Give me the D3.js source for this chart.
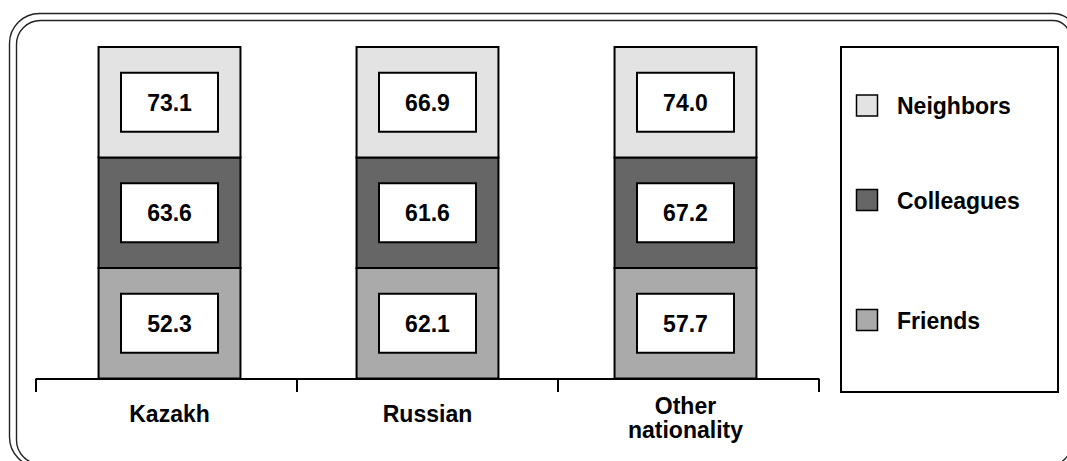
<!DOCTYPE html>
<html>
<head>
<meta charset="utf-8">
<script src="https://cdn.jsdelivr.net/npm/d3@7"></script>
<style>
  html, body { margin: 0; padding: 0; background: #fff; }
  svg { display: block; font-family: "Liberation Sans", Arial, sans-serif; }
</style>
</head>
<body>
<svg id="chart" width="1067" height="461"></svg>
<script>
// ---- data ----
const categories = ["Kazakh", "Russian", "Other nationality"];
const seriesNames = ["Friends", "Colleagues", "Neighbors"];
const friends    = [52.3, 62.1, 57.7];
const colleagues = [63.6, 61.6, 67.2];
const neighbors  = [73.1, 66.9, 74.0];
const legendOrder = ["Neighbors", "Colleagues", "Friends"];

// ---- styles ----
const colors = { Friends: "#aaaaaa", Colleagues: "#666666", Neighbors: "#e3e3e3" };
const seriesValues = { Friends: friends, Colleagues: colleagues, Neighbors: neighbors };

const svg = d3.select("#chart");

// ---- frame (double rounded border) ----
function roundRect(x0, y0, x1, y1, rl, rr) {
  return `M${x0 + rl},${y0} L${x1 - rr},${y0} A${rr},${rr} 0 0 1 ${x1},${y0 + rr}
          L${x1},${y1 - rr} A${rr},${rr} 0 0 1 ${x1 - rr},${y1}
          L${x0 + rl},${y1} A${rl},${rl} 0 0 1 ${x0},${y1 - rl}
          L${x0},${y0 + rl} A${rl},${rl} 0 0 1 ${x0 + rl},${y0} Z`;
}
svg.append("path").attr("d", roundRect(9.5, 13.5, 1077, 467, 30, 24))
  .attr("fill", "none").attr("stroke", "#222").attr("stroke-width", 1.4);
svg.append("path").attr("d", roundRect(16.5, 20.5, 1070, 464, 24, 17))
  .attr("fill", "none").attr("stroke", "#222").attr("stroke-width", 1.4);

// ---- scales ----
const axisLeft = 36, axisRight = 819, baseY = 378.5, topY = 47;
const xAxisScale = d3.scaleBand().domain(categories).range([axisLeft, axisRight]).padding(0);
const x = d3.scaleBand().domain(categories).range([axisLeft, axisRight])
  .paddingInner(0.45).paddingOuter(0.2425);
const y = d3.scaleBand().domain(seriesNames).range([baseY, topY]).padding(0);

// ---- bars ----
const boxW = 97, boxH = 59;
const barG = svg.append("g");
seriesNames.forEach(s => {
  categories.forEach((c, i) => {
    const v = seriesValues[s][i];
    const bx = x(c), by = y(s), bw = x.bandwidth(), bh = y.bandwidth();
    barG.append("rect")
      .attr("x", bx).attr("y", by).attr("width", bw).attr("height", bh)
      .attr("fill", colors[s]).attr("stroke", "#000").attr("stroke-width", 2);
    const cx = bx + bw / 2, cy = by + bh / 2;
    barG.append("rect")
      .attr("x", cx - boxW / 2).attr("y", cy - boxH / 2)
      .attr("width", boxW).attr("height", boxH)
      .attr("fill", "#fff").attr("stroke", "#000").attr("stroke-width", 2);
    barG.append("text")
      .attr("x", cx).attr("y", cy + 8.5)
      .attr("text-anchor", "middle")
      .attr("font-size", 23).attr("font-weight", "bold").attr("fill", "#000")
      .text(v.toFixed(1));
  });
});

// ---- x axis ----
const axisG = svg.append("g");
axisG.append("line")
  .attr("x1", axisLeft).attr("x2", axisRight).attr("y1", baseY + 0.5).attr("y2", baseY + 0.5)
  .attr("stroke", "#000").attr("stroke-width", 2);
const tickXs = categories.map(c => xAxisScale(c)).concat([xAxisScale(categories[categories.length - 1]) + xAxisScale.bandwidth()]);
axisG.selectAll("line.tick").data(tickXs).enter().append("line")
  .attr("class", "tick")
  .attr("x1", d => d).attr("x2", d => d).attr("y1", baseY).attr("y2", 392)
  .attr("stroke", "#000").attr("stroke-width", 2);

categories.forEach(c => {
  const cx = x(c) + x.bandwidth() / 2;
  const words = c.split(" ");
  const t = axisG.append("text")
    .attr("text-anchor", "middle")
    .attr("font-size", 23).attr("font-weight", "bold").attr("fill", "#000");
  if (words.length === 1) {
    t.append("tspan").attr("x", cx).attr("y", 422).text(c);
  } else {
    t.append("tspan").attr("x", cx).attr("y", 414).text(words[0]);
    t.append("tspan").attr("x", cx).attr("y", 438).text(words.slice(1).join(" "));
  }
});

// ---- legend ----
const legend = svg.append("g");
legend.append("rect")
  .attr("x", 841).attr("y", 47).attr("width", 217).attr("height", 345)
  .attr("fill", "#fff").attr("stroke", "#000").attr("stroke-width", 2);
const legendY = [105.5, 200, 320];
legendOrder.forEach((s, i) => {
  legend.append("rect")
    .attr("x", 856.5).attr("y", legendY[i] - 10.5).attr("width", 21).attr("height", 21)
    .attr("fill", colors[s]).attr("stroke", "#000").attr("stroke-width", 1.5);
  legend.append("text")
    .attr("x", 897).attr("y", legendY[i] + 8.5)
    .attr("font-size", 23).attr("font-weight", "bold").attr("fill", "#000")
    .text(s);
});
</script>
</body>
</html>
